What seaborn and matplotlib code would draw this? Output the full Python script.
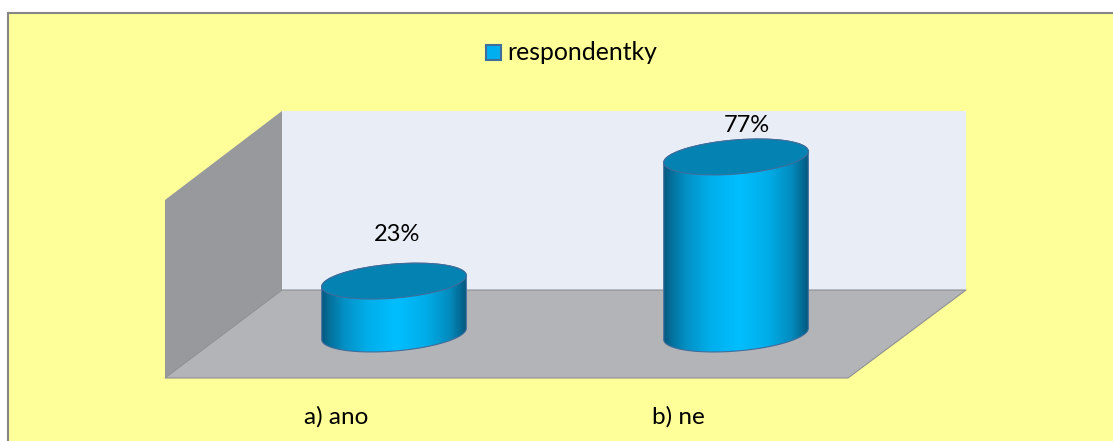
#!/usr/bin/env python3
"""Survey answer chart: 3D-look cylinders on a yellow panel."""

import numpy as np
import pandas as pd
import matplotlib
matplotlib.use("Agg")
import matplotlib.pyplot as plt
from matplotlib.colors import LinearSegmentedColormap
from matplotlib.patches import Polygon, Rectangle, Ellipse
from matplotlib.transforms import ScaledTranslation
import seaborn as sns

categories = ["a) ano", "b) ne"]
values = [23, 77]
series_name = "respondentky"

W, H = 1113, 441
TILT = 4.7  # degrees
BODY = LinearSegmentedColormap.from_list(
    "cyl", [(0, "#04577d"), (0.06, "#04719c"), (0.16, "#0391c6"), (0.32, "#00aeea"),
            (0.52, "#00bfff"), (0.72, "#00ade8"), (0.88, "#038cbf"), (0.96, "#046a94"),
            (1, "#055478")])

sns.set_theme(style="white")
plt.rcParams["font.family"] = ["Lato", "DejaVu Sans"]

fig = plt.figure(figsize=(W / 100, H / 100), dpi=100, facecolor="white")

# pixel-space layer for the panel and the fake 3D box
bg = fig.add_axes([0, 0, 1, 1], zorder=0)
bg.set_xlim(0, W)
bg.set_ylim(H, 0)
bg.axis("off")
bg.add_patch(Rectangle((7.5, 12.5), W, H, fc="#ffff99", ec="#868686", lw=1.5))
bg.add_patch(Polygon([(282, 111), (966, 111), (966, 290), (282, 290)], fc="#e9edf6", ec="none"))
bg.add_patch(Polygon([(165, 200), (282, 111), (282, 290), (165, 378)], fc="#97999c", ec="none"))
bg.add_patch(Polygon([(165, 378), (848, 378), (966, 290), (282, 290)], fc="#b2b4b7", ec="#8e9094", lw=0.8))

# data axes: y=0 sits at the centre of the cylinder bases
left, right, y0, y_top = 223, 907, 334, 111
ax = fig.add_axes([left / W, 1 - y0 / H, (right - left) / W, (y0 - y_top) / H], zorder=1)
ax.patch.set_alpha(0)
df = pd.DataFrame({"odpoved": categories, "podil": values})
sns.barplot(data=df, x="odpoved", y="podil", color="#00bfff", width=0.424,
            saturation=1, ax=ax, legend=False)
ax.set_xlim(-0.5, 1.5)
ax.set_ylim(0, 97)
ax.set_xlabel("")
ax.set_ylabel("")
ax.set_yticks([])
sns.despine(ax=ax, left=True, bottom=True)
ax.tick_params(axis="x", length=0, pad=52, labelsize=17.5, colors="black")
for lab in ax.get_xticklabels():
    lab.set_transform(lab.get_transform() + ScaledTranslation(-58 / 100, 0, fig.dpi_scale_trans))

# pixel-space layer on top for the cylinder drawing
fg = fig.add_axes([0, 0, 1, 1], zorder=2)
fg.set_xlim(0, W)
fg.set_ylim(H, 0)
fg.axis("off")


def to_px(x, y):
    dx, dy = ax.transData.transform((x, y))
    return fg.transData.inverted().transform((dx, dy))


def ellipse_pts(cx, cy, a, b, t):
    th = np.radians(TILT)
    return np.column_stack([cx + a * np.cos(t) * np.cos(th) + b * np.sin(t) * np.sin(th),
                            cy - a * np.cos(t) * np.sin(th) + b * np.sin(t) * np.cos(th)])


gradient = np.linspace(0, 1, 256)[None, :]
for bar, val in zip(ax.patches, values):
    xc = bar.get_x() + bar.get_width() / 2
    cx, cy_top = to_px(xc, val)
    cx, cy_bot = to_px(xc, 0)
    x0, _ = to_px(bar.get_x(), 0)
    a = cx - x0
    b = 17

    lower = ellipse_pts(cx, cy_bot, a, b, np.linspace(0, np.pi, 60))
    upper = ellipse_pts(cx, cy_top, a, b, np.linspace(np.pi, 2 * np.pi, 60))
    body = Polygon(np.vstack([lower, upper]), closed=True, fc="none",
                   ec="#3f6d9c", lw=0.8, transform=fg.transData)
    bar.set_clip_path(Polygon(np.vstack([lower, upper]), closed=True, transform=fg.transData))
    img = fg.imshow(gradient, cmap=BODY, aspect="auto",
                    extent=(cx - a, cx + a, cy_bot + b + 8, cy_top - b - 8))
    fg.add_patch(body)
    img.set_clip_path(body)
    fg.add_patch(Ellipse((cx, cy_top), 2 * a, 2 * b, angle=-TILT, fc="#0483b3", ec="#3f6d9c", lw=0.8))
    fg.set_xlim(0, W)
    fg.set_ylim(H, 0)

    # percent label sits above and slightly clear of the cylinder top
    lx, ly = to_px(xc, val)
    offset = 47 if val < 50 else 31
    shift = 3 if val < 50 else 11
    fg.text(lx + shift, ly - offset, f"{val}%", ha="center", va="center", fontsize=17, color="black")

# legend
bg.add_patch(Rectangle((486, 45), 15, 15, fc="#00afef", ec="#3f6d9c", lw=1.5))
bg.text(507, 52, series_name, ha="left", va="center", fontsize=17.8, color="black")

fig.savefig("out.png", dpi=100)
